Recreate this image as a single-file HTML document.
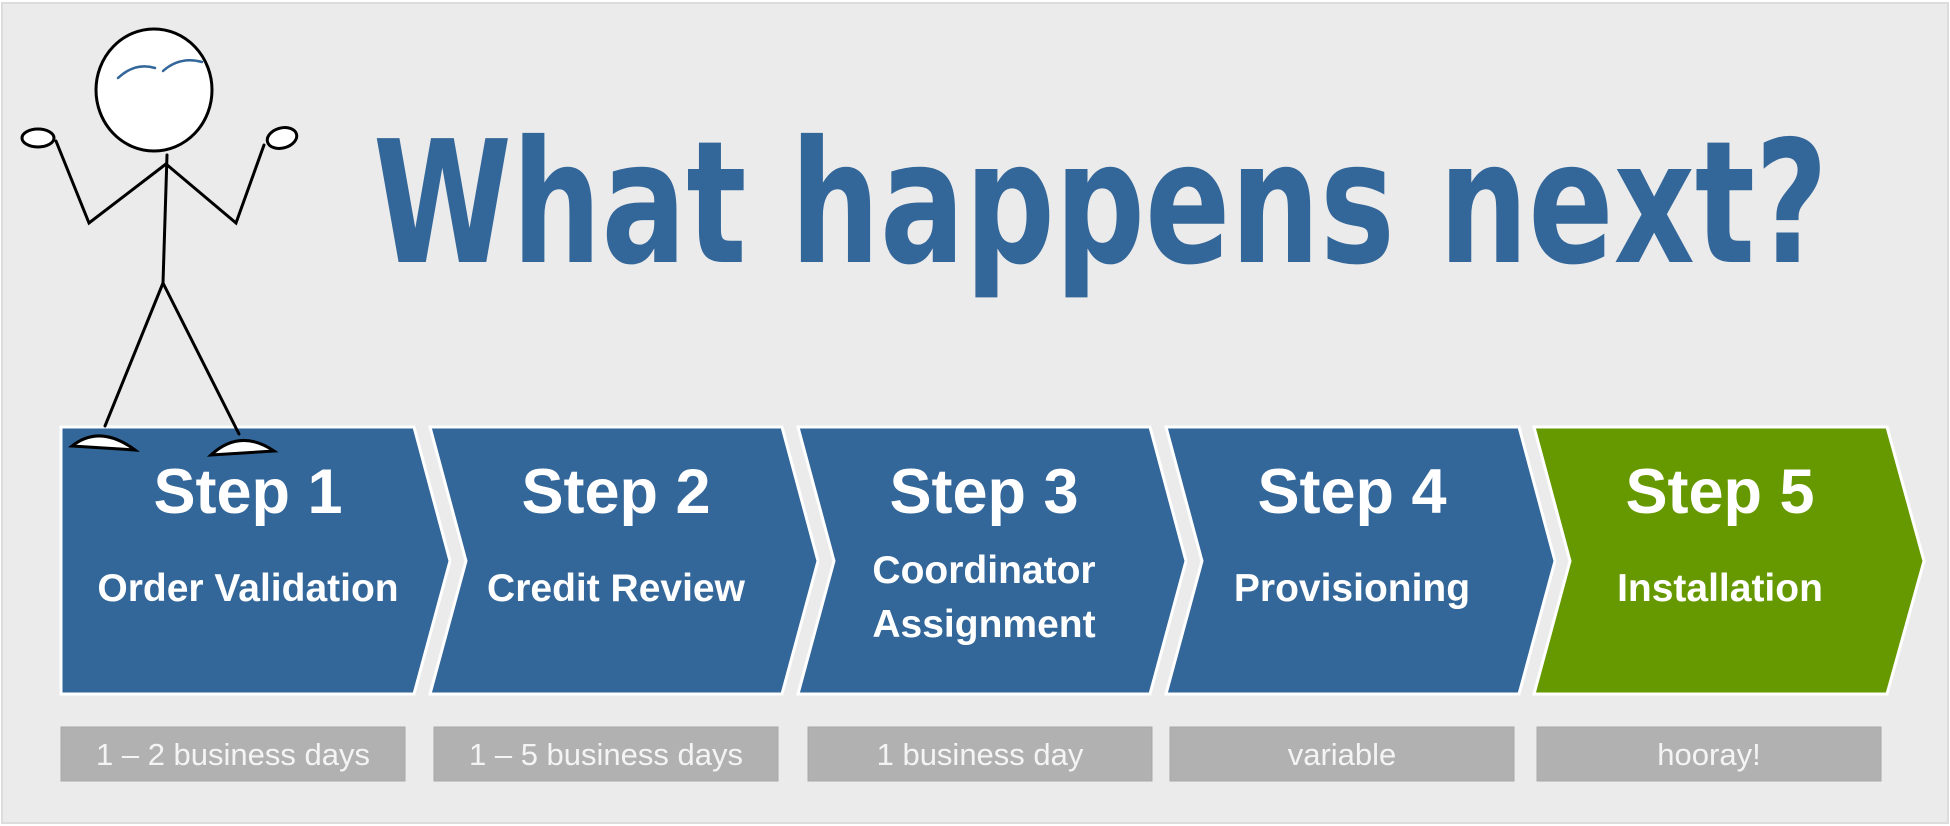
<!DOCTYPE html>
<html><head><meta charset="utf-8"><style>
html,body{margin:0;padding:0;background:#fff;}
svg{display:block;}
</style></head><body>
<svg width="1950" height="826" viewBox="0 0 1950 826" xmlns="http://www.w3.org/2000/svg">
<rect x="0" y="0" width="1950" height="826" fill="#ffffff"/>
<rect x="2" y="3" width="1946" height="820" fill="#ebebeb" stroke="#dcdcdc" stroke-width="2"/>
<text x="373" y="262" font-family="'DejaVu Sans','Liberation Sans',sans-serif" font-weight="bold" font-size="170" fill="#336699" textLength="1455" lengthAdjust="spacingAndGlyphs">What happens next?</text>
<g stroke="#ffffff" stroke-width="3" stroke-linejoin="miter">
<polygon points="61,427 414,427 450,561 414,694 61,694" fill="#336699"/>
<polygon points="430,427 782,427 818,561 782,694 430,694 466,561" fill="#336699"/>
<polygon points="798,427 1150,427 1186,561 1150,694 798,694 834,561" fill="#336699"/>
<polygon points="1166,427 1519,427 1555,561 1519,694 1166,694 1202,561" fill="#336699"/>
<polygon points="1534,427 1887,427 1924,561 1887,694 1534,694 1570,561" fill="#669900"/>
</g>
<g font-family="'Liberation Sans',sans-serif" font-weight="bold" fill="#ffffff" text-anchor="middle">
<text x="248" y="513" font-size="63">Step 1</text>
<text x="248" y="601" font-size="39">Order Validation</text>
<text x="616" y="513" font-size="63">Step 2</text>
<text x="616" y="601" font-size="39">Credit Review</text>
<text x="984" y="513" font-size="63">Step 3</text>
<text x="984" y="583" font-size="39">Coordinator</text>
<text x="984" y="637" font-size="39">Assignment</text>
<text x="1352" y="513" font-size="63">Step 4</text>
<text x="1352" y="601" font-size="39">Provisioning</text>
<text x="1720" y="513" font-size="63">Step 5</text>
<text x="1720" y="601" font-size="39">Installation</text>
</g>
<g fill="#b1b1b1" stroke="#a8a8a8" stroke-width="1">
<rect x="61" y="727" width="344" height="54"/>
<rect x="434" y="727" width="344" height="54"/>
<rect x="808" y="727" width="344" height="54"/>
<rect x="1170" y="727" width="344" height="54"/>
<rect x="1537" y="727" width="344" height="54"/>
</g>
<g font-family="'Liberation Sans',sans-serif" font-size="31" fill="#f4f4f4" text-anchor="middle">
<text x="233" y="765">1 – 2 business days</text>
<text x="606" y="765">1 – 5 business days</text>
<text x="980" y="765">1 business day</text>
<text x="1342" y="765">variable</text>
<text x="1709" y="765">hooray!</text>
</g>
<g stroke="#000" stroke-width="3" fill="none" stroke-linecap="round">
<ellipse cx="154" cy="90" rx="58" ry="61" fill="#fff"/>
<path d="M167,155 L163,283"/>
<path d="M166,164 L89,223 L56,141"/>
<path d="M166,164 L236,223 L264,145"/>
<path d="M163,283 L105,426"/>
<path d="M163,283 L239,434"/>
<ellipse cx="38" cy="138" rx="16" ry="9" fill="#fff"/>
<ellipse cx="282" cy="138" rx="15" ry="10" fill="#fff" transform="rotate(-15 282 138)"/>
<path d="M72,446 Q100,424 135,450 Z" fill="#fff"/>
<path d="M211,455 Q240,428 274,451 Z" fill="#fff"/>
</g>
<g stroke="#336699" stroke-width="2.5" fill="none" stroke-linecap="round">
<path d="M118,78 Q135,62 155,68"/>
<path d="M163,71 Q180,56 202,62"/>
</g>
</svg>
</body></html>
